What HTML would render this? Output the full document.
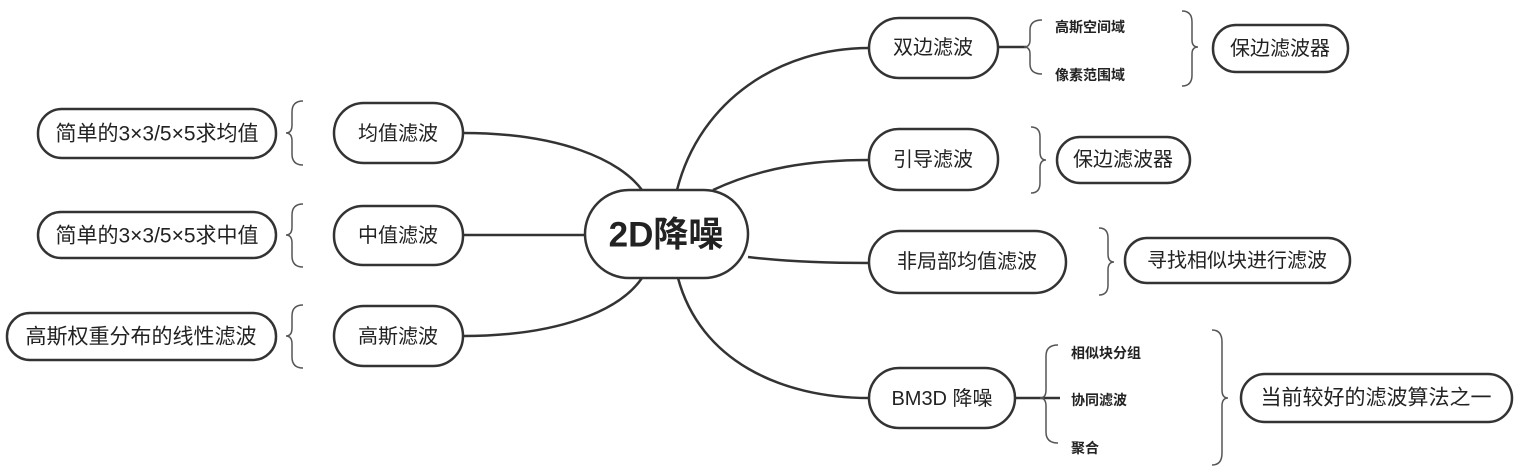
<!DOCTYPE html>
<html><head><meta charset="utf-8"><style>
html,body{margin:0;padding:0;background:#fff;width:1514px;height:475px;overflow:hidden}
svg text{font-family:"Liberation Sans","Noto Sans CJK SC",sans-serif;fill:#222}
</style></head><body>
<svg width="1514" height="475" viewBox="0 0 1514 475" xmlns="http://www.w3.org/2000/svg">
<g fill="none" stroke="#333" stroke-width="2.5">
<path d="M463,133 C560,133 620,160 642,190"/>
<path d="M463,235 L585,235"/>
<path d="M463,336 C560,336 620,310 642,278"/>
<path d="M677,190 C700,100 780,48 869,48"/>
<path d="M713,190 C760,168 810,160 869,160"/>
<path d="M748,257 C790,262 830,263 869,263"/>
<path d="M678,278 C700,360 780,398 869,398"/>
<path d="M998,47 L1026,47"/>
<path d="M1015,398 L1060,398"/>
<rect x="585" y="190" width="163" height="88" rx="44"/>
<rect x="334" y="103" width="129" height="60" rx="30"/>
<rect x="334" y="206" width="129" height="59" rx="29"/>
<rect x="334" y="306" width="129" height="60" rx="30"/>
<rect x="38" y="109" width="238" height="49" rx="24"/>
<rect x="38" y="212" width="238" height="46" rx="23"/>
<rect x="7" y="313" width="269" height="47" rx="23"/>
<rect x="869" y="18" width="129" height="60" rx="30"/>
<rect x="1213" y="25" width="135" height="47" rx="23"/>
<rect x="869" y="129" width="129" height="61" rx="30"/>
<rect x="1057" y="137" width="133" height="46" rx="23"/>
<rect x="869" y="231" width="197" height="62" rx="31"/>
<rect x="1125" y="238" width="225" height="45" rx="22"/>
<rect x="869" y="368" width="146" height="60" rx="30"/>
<rect x="1241" y="374" width="271" height="48" rx="24"/>
</g>
<g fill="none" stroke="#555" stroke-width="1.5">
<path d="M303,101 Q292,101 292,112 L292,125 Q292,133 286,133 Q292,133 292,141 L292,154 Q292,165 303,165"/>
<path d="M303,204 Q292,204 292,215 L292,227 Q292,235 286,235 Q292,235 292,243 L292,256 Q292,267 303,267"/>
<path d="M303,305 Q292,305 292,316 L292,328 Q292,336 286,336 Q292,336 292,344 L292,357 Q292,368 303,368"/>
<path d="M1042,20 Q1030,20 1030,30 L1030,40 Q1030,47 1024,47 Q1030,47 1030,54 L1030,64 Q1030,74 1042,74"/>
<path d="M1182,11 Q1192,11 1192,22 L1192,40 Q1192,47 1198,47 Q1192,47 1192,54 L1192,75 Q1192,86 1182,86"/>
<path d="M1031,127 Q1040,127 1040,137 L1040,152 Q1040,160 1046,160 Q1040,160 1040,168 L1040,183 Q1040,193 1031,193"/>
<path d="M1099,228 Q1108,228 1108,238 L1108,254 Q1108,262 1114,262 Q1108,262 1108,270 L1108,285 Q1108,295 1099,295"/>
<path d="M1058,345 Q1046,345 1046,356 L1046,390 Q1046,398 1040,398 Q1046,398 1046,406 L1046,432 Q1046,443 1058,443"/>
<path d="M1212,330 Q1222,330 1222,342 L1222,390 Q1222,398 1228,398 Q1222,398 1222,406 L1222,453 Q1222,465 1212,465"/>
</g>
<g font-size="20" text-anchor="middle" dominant-baseline="central">
<text x="666" y="235" font-size="35" font-weight="bold">2D降噪</text>
<text x="398" y="134">均值滤波</text>
<text x="398" y="236">中值滤波</text>
<text x="398" y="337">高斯滤波</text>
<text x="157" y="134" font-size="21">简单的3×3/5×5求均值</text>
<text x="157" y="236" font-size="21">简单的3×3/5×5求中值</text>
<text x="141" y="337" font-size="21">高斯权重分布的线性滤波</text>
<text x="933" y="48">双边滤波</text>
<text x="1280" y="49">保边滤波器</text>
<text x="933" y="160">引导滤波</text>
<text x="1123" y="160">保边滤波器</text>
<text x="967" y="262">非局部均值滤波</text>
<text x="1237" y="261">寻找相似块进行滤波</text>
<text x="942" y="399">BM3D 降噪</text>
<text x="1376" y="398" font-size="21">当前较好的滤波算法之一</text>
</g>
<g font-size="14" font-weight="bold" dominant-baseline="central">
<text x="1055" y="27">高斯空间域</text>
<text x="1055" y="75">像素范围域</text>
<text x="1071" y="353">相似块分组</text>
<text x="1071" y="400">协同滤波</text>
<text x="1071" y="448">聚合</text>
</g>
</svg>
</body></html>
